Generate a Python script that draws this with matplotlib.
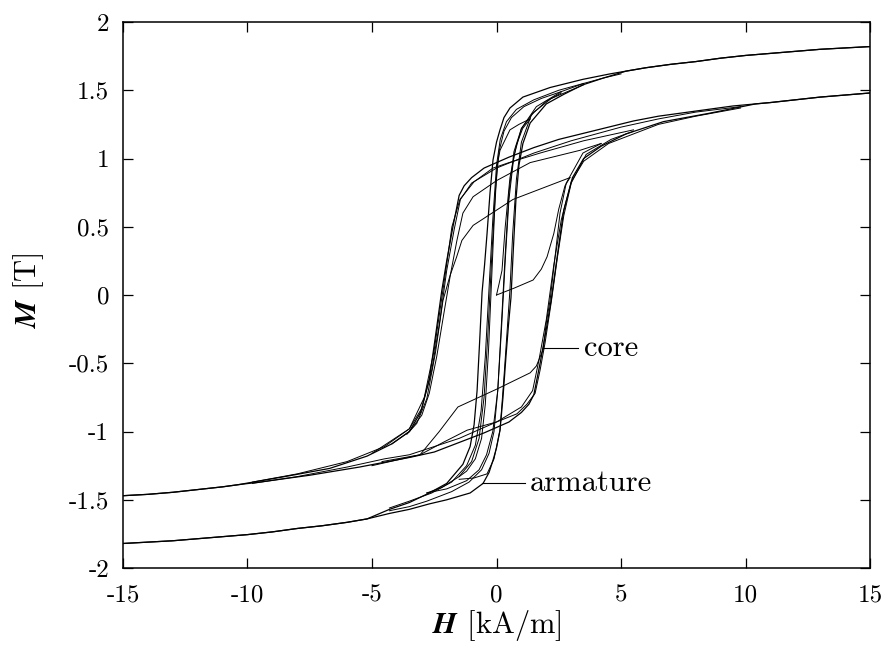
import matplotlib
matplotlib.use("Agg")
import matplotlib.pyplot as plt

# ---- data (H in kA/m, M in T) ----
xticks = [-15, -10, -5, 0, 5, 10, 15]
xtick_labels = ["-15", "-10", "-5", "0", "5", "10", "15"]
yticks = [-2, -1.5, -1, -0.5, 0, 0.5, 1, 1.5, 2]
ytick_labels = ["-2", "-1.5", "-1", "-0.5", "0", "0.5", "1", "1.5", "2"]

# core: major loop
core_desc_H = [15, 14, 13, 12, 11, 10.4, 9.5, 8.5, 7.5, 6.5, 5.5, 4.5, 3.5, 2.5, 1.5, 0.5, -0.5, -1.0, -1.3, -1.5,
               -1.75, -2.0, -2.2, -2.45, -2.7, -3.05, -3.5, -4.2, -5.2, -6.7, -8.5, -10.4, -11, -12, -13, -14, -15]
core_desc_M = [1.48, 1.465, 1.45, 1.43, 1.41, 1.40, 1.385, 1.36, 1.335, 1.31, 1.275, 1.23, 1.185, 1.14, 1.08, 1.01, 0.93,
               0.86, 0.80, 0.73, 0.50, 0.25, 0.03, -0.30, -0.62, -0.86, -1.00, -1.09, -1.18, -1.27, -1.33, -1.39,
               -1.405, -1.425, -1.445, -1.46, -1.47]
core_asc_H = [-15, -14, -13, -12, -11, -10.4, -9.5, -8.5, -7.5, -6.5, -5.5, -4.5, -3.5, -2.5, -1.5, -0.5, 0.5, 1.0,
              1.3, 1.5, 1.75, 2.0, 2.2, 2.45, 2.7, 3.05, 3.5, 4.2, 5.2, 6.7, 8.5, 10.4, 11, 12, 13, 14, 15]
core_asc_M = [-1.47, -1.46, -1.445, -1.425, -1.405, -1.39, -1.37, -1.345, -1.32, -1.29, -1.26, -1.225, -1.19, -1.15,
              -1.08, -1.01, -0.93, -0.86, -0.80, -0.73, -0.50, -0.25, -0.03, 0.30, 0.62, 0.86, 1.00, 1.09, 1.18,
              1.27, 1.33, 1.40, 1.41, 1.43, 1.45, 1.465, 1.48]
# core: near-major loop (amplitude ~9.8)
core_d9_H = [9.8, 8, 6.5, 5, 3, 1.5, 0, -1.0, -1.45, -1.7, -2.0, -2.3, -2.6, -3.0, -3.5, -4.5, -6, -8, -9.8]
core_d9_M = [1.38, 1.34, 1.29, 1.23, 1.13, 1.04, 0.93, 0.82, 0.70, 0.48, 0.18, -0.22, -0.55, -0.83, -0.98, -1.11, -1.22, -1.31, -1.37]
core_a9_H = [-9.8, -8, -6, -4.5, -3.5, -3.0, -1.5, 0, 1.0, 1.45, 1.7, 2.0, 2.3, 2.6, 3.0, 3.5, 4.5, 6.5, 8, 9.8]
core_a9_M = [-1.38, -1.33, -1.26, -1.20, -1.17, -1.14, -1.05, -0.93, -0.82, -0.70, -0.48, -0.18, 0.22, 0.55, 0.83, 0.98, 1.11, 1.25, 1.31, 1.37]
# core: virgin curve and inner loops
core_v_H = [0, 0.7, 1.47, 1.8, 2.03, 2.3, 2.5, 2.75, 2.95]
core_v_M = [0.0, 0.05, 0.11, 0.19, 0.28, 0.45, 0.63, 0.80, 0.86]
core_d1_H = [2.95, 0.66, -0.94, -1.39, -1.6, -1.87, -2.15, -2.45, -2.8, -3.2, -3.6]
core_d1_M = [0.86, 0.70, 0.51, 0.40, 0.28, 0.14, -0.04, -0.42, -0.76, -0.94, -1.02]
core_a1_H = [-4.6, -3.07, -2.3, -1.55, 0.0, 1.35, 1.6, 1.87, 2.0, 2.15, 2.35, 2.55, 2.8, 3.47, 4.2]
core_a1_M = [-1.22, -1.17, -1.0, -0.82, -0.69, -0.57, -0.52, -0.40, -0.2, -0.04, 0.28, 0.6, 0.82, 1.04, 1.11]
core_d2_H = [4.2, 3.35, 1.35, 0.02, -0.94, -1.35, -1.59, -1.85, -2.1, -2.4, -2.7, -3.0, -3.5, -4.2]
core_d2_M = [1.11, 1.06, 0.97, 0.84, 0.72, 0.60, 0.40, 0.15, -0.12, -0.45, -0.72, -0.88, -1.00, -1.09]
core_a2_H = [-5.0, -3.07, -2.15, -1.18, 0.0, 0.82, 1.22, 1.55, 1.75, 1.95, 2.2, 2.45, 2.7, 3.0, 3.6, 4.6, 5.5]
core_a2_M = [-1.25, -1.17, -1.08, -0.99, -0.93, -0.87, -0.80, -0.72, -0.55, -0.35, -0.05, 0.28, 0.58, 0.82, 1.03, 1.14, 1.20]
core_d3_H = [5.5, 3.5, 1.75, 0.5, -0.14, -0.9, -1.47, -1.79, -2.1, -2.5, -2.9, -3.5, -5.0]
core_d3_M = [1.21, 1.13, 1.04, 0.97, 0.93, 0.83, 0.70, 0.50, 0.10, -0.40, -0.75, -0.98, -1.16]

# armature: major loop (single line beyond +-5.2)
arm_desc_H = [15, 14, 13, 12, 11, 10, 9, 8, 7, 6, 5.2, 4.56, 3.47, 2.15, 1.06, 0.54, 0.3, 0.14, 0.0, -0.14, -0.26,
              -0.38, -0.48, -0.58, -0.68, -0.78, -0.9, -1.06, -1.35, -2.0, -2.7, -3.5, -4.3, -5.2, -6, -7, -8, -9,
              -10, -11, -12, -13, -14, -15]
arm_desc_M = [1.82, 1.81, 1.80, 1.785, 1.77, 1.755, 1.735, 1.71, 1.69, 1.665, 1.64, 1.62, 1.58, 1.52, 1.45, 1.37, 1.30,
              1.21, 1.12, 0.99, 0.75, 0.45, 0.22, 0.02, -0.35, -0.70, -0.95, -1.11, -1.24, -1.38, -1.45, -1.52, -1.57,
              -1.64, -1.665, -1.69, -1.71, -1.735, -1.755, -1.77, -1.785, -1.80, -1.81, -1.82]
arm_asc_H = [-15, -14, -13, -12, -11, -10, -9, -8, -7, -6, -5.2, -4.3, -3.5, -2.7, -2.0, -1.06, -0.54, -0.3, -0.14,
             0.0, 0.14, 0.26, 0.38, 0.48, 0.58, 0.68, 0.78, 0.9, 1.06, 1.35, 2.0, 2.7, 3.47, 4.3, 5.2, 6, 7, 8, 9,
             10, 11, 12, 13, 14, 15]
arm_asc_M = [-1.82, -1.81, -1.80, -1.785, -1.77, -1.755, -1.735, -1.71, -1.69, -1.665, -1.64, -1.60, -1.57, -1.53,
             -1.50, -1.45, -1.38, -1.30, -1.21, -1.12, -0.99, -0.75, -0.45, -0.22, -0.02, 0.35, 0.70, 0.95, 1.11,
             1.26, 1.40, 1.47, 1.54, 1.59, 1.64, 1.665, 1.69, 1.71, 1.735, 1.755, 1.77, 1.785, 1.80, 1.81, 1.82]
# armature: virgin curve and inner loops
arm_v_H = [0, 0.1, 0.22, 0.35, 0.54, 0.8, 1.05, 1.35]
arm_v_M = [0, 0.08, 0.18, 0.5, 0.86, 1.1, 1.22, 1.29]
arm_d1_H = [1.35, 0.9, 0.54, 0.14, 0.02, -0.08, -0.2, -0.32, -0.45, -0.6, -0.85, -1.2, -1.5]
arm_d1_M = [1.29, 1.25, 1.21, 1.06, 0.94, 0.6, 0.1, -0.4, -0.8, -1.05, -1.2, -1.29, -1.33]
arm_a1_H = [-1.5, -0.9, -0.38, -0.1, 0.14, 0.3, 0.45, 0.54, 0.65, 0.8, 1.0, 1.4, 2.0, 2.6]
arm_a1_M = [-1.35, -1.34, -1.31, -1.2, -0.99, -0.6, -0.2, 0.04, 0.45, 0.85, 1.12, 1.32, 1.42, 1.48]
arm_d2_H = [2.6, 1.8, 1.1, 0.6, 0.3, 0.1, -0.05, -0.2, -0.35, -0.5, -0.7, -1.0, -1.5, -2.2, -2.8]
arm_d2_M = [1.49, 1.44, 1.38, 1.30, 1.20, 1.05, 0.75, 0.25, -0.3, -0.75, -1.05, -1.22, -1.33, -1.41, -1.45]
arm_a2_H = [-2.8, -2.0, -1.2, -0.7, -0.4, -0.15, 0.05, 0.2, 0.35, 0.5, 0.7, 1.0, 1.5, 2.2, 3.5]
arm_a2_M = [-1.45, -1.42, -1.36, -1.28, -1.17, -1.0, -0.7, -0.2, 0.3, 0.75, 1.05, 1.22, 1.34, 1.44, 1.54]
arm_d3_H = [3.5, 2.5, 1.5, 0.8, 0.4, 0.15, 0.0, -0.15, -0.3, -0.45, -0.62, -0.85, -1.2, -1.8, -2.6, -3.5, -4.3]
arm_d3_M = [1.55, 1.50, 1.43, 1.36, 1.27, 1.14, 0.95, 0.55, 0.05, -0.45, -0.85, -1.10, -1.25, -1.37, -1.45, -1.51, -1.56]
arm_a3_H = [-4.3, -3.5, -2.8, -1.8, -1.1, -0.6, -0.3, -0.1, 0.05, 0.2, 0.35, 0.5, 0.7, 1.0, 1.6, 2.6, 3.5, 4.3, 5.0]
arm_a3_M = [-1.58, -1.55, -1.51, -1.44, -1.37, -1.28, -1.16, -1.0, -0.7, -0.25, 0.25, 0.7, 1.02, 1.22, 1.38, 1.49, 1.55, 1.59, 1.62]

major_curves = [
    (core_desc_H, core_desc_M), (core_asc_H, core_asc_M),
    (arm_desc_H, arm_desc_M), (arm_asc_H, arm_asc_M),
]
inner_curves = [
    (core_d9_H, core_d9_M), (core_a9_H, core_a9_M),
    (core_v_H, core_v_M), (core_d1_H, core_d1_M), (core_a1_H, core_a1_M),
    (core_d2_H, core_d2_M), (core_a2_H, core_a2_M), (core_d3_H, core_d3_M),
    (arm_v_H, arm_v_M), (arm_d1_H, arm_d1_M), (arm_a1_H, arm_a1_M),
    (arm_d2_H, arm_d2_M), (arm_a2_H, arm_a2_M), (arm_d3_H, arm_d3_M), (arm_a3_H, arm_a3_M),
]

plt.rcParams['font.family'] = 'cmr10'
plt.rcParams['mathtext.fontset'] = 'stix'
plt.rcParams['axes.unicode_minus'] = False

fig = plt.figure(figsize=(8.91, 6.47), dpi=100)
ax = fig.add_axes([0.138, 0.122, 0.8385, 0.844])

for h, m in major_curves:
    ax.plot(h, m, color='black', lw=0.9)
for h, m in inner_curves:
    ax.plot(h, m, color='black', lw=0.7)

# labels with leader lines
ax.plot([1.87, 3.27], [-0.39, -0.39], color='black', lw=0.8)
ax.text(3.5, -0.39, "core", fontsize=22, va='center', ha='left')
ax.plot([-0.58, 1.14], [-1.377, -1.377], color='black', lw=0.8)
ax.text(1.35, -1.377, "armature", fontsize=22, va='center', ha='left')

ax.set_xlim(-15, 15)
ax.set_ylim(-2, 2)
ax.set_xticks(xticks)
ax.set_xticklabels(xtick_labels)
ax.set_yticks(yticks)
ax.set_yticklabels(ytick_labels)
ax.tick_params(direction='in', length=7, width=0.9, top=True, right=True, labelsize=18)
ax.tick_params(axis='x', pad=12)
ax.tick_params(axis='y', pad=10)
for s in ax.spines.values():
    s.set_linewidth(1.1)

ax.set_xlabel(r"$\mathbfit{H}$ [kA/m]", fontsize=22, va='center')
ax.xaxis.set_label_coords(0.5, -0.105)
ax.set_ylabel(r"$\mathbfit{M}$ [T]", fontsize=22, va='center')
ax.yaxis.set_label_coords(-0.126, 0.509)

fig.savefig("out.png", dpi=100)
